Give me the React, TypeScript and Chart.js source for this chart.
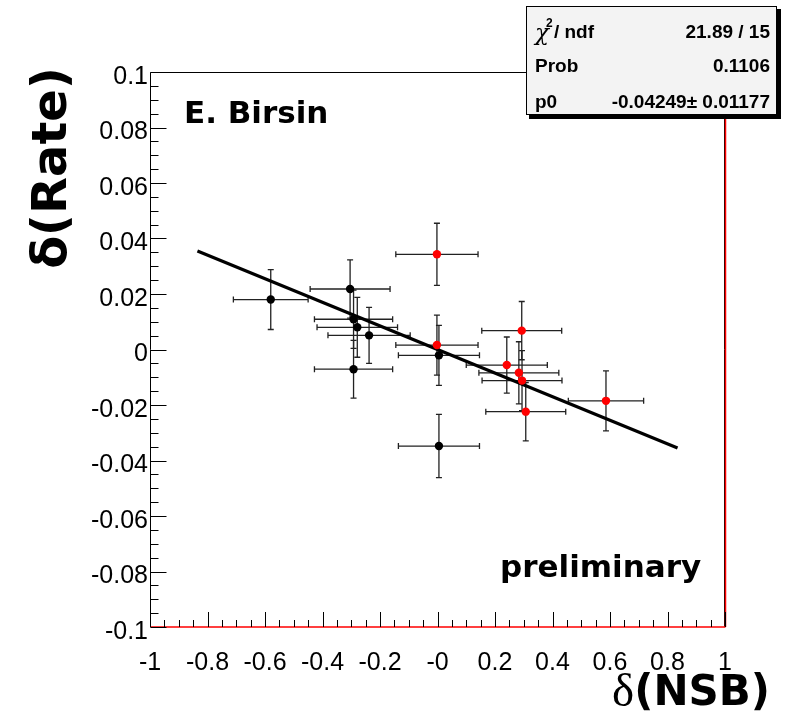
import { useEffect, useRef } from 'react';
import { Chart, registerables } from 'chart.js';
Chart.register(...registerables);

// Black points (NSB change, rate change) with errors
const blackX = [-0.58, -0.304, -0.292, -0.279, -0.238, -0.292, 0.005, 0.005];
const blackY = [0.018, 0.0218, 0.0109, 0.008, 0.0051, -0.0071, -0.0021, -0.0348];
const blackXErr = [0.13, 0.139, 0.136, 0.14, 0.143, 0.136, 0.141, 0.141];
const blackYErr = [0.0108, 0.0105, 0.0105, 0.0108, 0.0101, 0.0104, 0.0108, 0.0114];

// Red points
const redX = [-0.002, -0.002, 0.293, 0.241, 0.283, 0.294, 0.307, 0.586];
const redY = [0.0343, 0.0016, 0.0068, -0.0056, -0.0084, -0.0112, -0.0224, -0.0185];
const redXErr = [0.143, 0.143, 0.139, 0.141, 0.139, 0.139, 0.139, 0.131];
const redYErr = [0.0112, 0.0108, 0.0105, 0.0101, 0.0112, 0.0108, 0.0105, 0.0108];

// Fit line end points (p0 * x)
const fitX = [-0.835, 0.835];
const fitY = [0.0355, -0.0355];

// Axis ticks
const xTickValues = [-1, -0.8, -0.6, -0.4, -0.2, 0, 0.2, 0.4, 0.6, 0.8, 1];
const xTickLabels = ['-1', '-0.8', '-0.6', '-0.4', '-0.2', '-0', '0.2', '0.4', '0.6', '0.8', '1'];
const yTickValues = [-0.1, -0.08, -0.06, -0.04, -0.02, 0, 0.02, 0.04, 0.06, 0.08, 0.1];
const yTickLabels = ['-0.1', '-0.08', '-0.06', '-0.04', '-0.02', '0', '0.02', '0.04', '0.06', '0.08', '0.1'];

// Stats box texts
const statsLabels = ['/ ndf', 'Prob', 'p0'];
const statsValues = ['21.89 / 15', '0.1106', '-0.04249\u00b1 0.01177'];

const TICK_FONT = "'Liberation Sans Narrow', 'Liberation Sans', Arial, sans-serif";
const BOLD_FONT = "'DejaVu Sans', Verdana, sans-serif";

const rootPlugin = {
  id: 'rootStyle',
  beforeDatasetsDraw(chart: any) {
    const ctx = chart.ctx;
    const xs = chart.scales.x;
    const ys = chart.scales.y;
    ctx.save();
    ctx.strokeStyle = '#222';
    ctx.lineWidth = 1.3;
    chart.data.datasets.forEach((ds: any) => {
      if (!ds.errors) return;
      ds.data.forEach((p: any) => {
        const px = xs.getPixelForValue(p.x);
        const py = ys.getPixelForValue(p.y);
        const x1 = xs.getPixelForValue(p.x - p.xErr);
        const x2 = xs.getPixelForValue(p.x + p.xErr);
        const y1 = ys.getPixelForValue(p.y - p.yErr);
        const y2 = ys.getPixelForValue(p.y + p.yErr);
        const c = 3;
        ctx.beginPath();
        ctx.moveTo(x1, py); ctx.lineTo(x2, py);
        ctx.moveTo(px, y1); ctx.lineTo(px, y2);
        ctx.moveTo(x1, py - c); ctx.lineTo(x1, py + c);
        ctx.moveTo(x2, py - c); ctx.lineTo(x2, py + c);
        ctx.moveTo(px - c, y1); ctx.lineTo(px + c, y1);
        ctx.moveTo(px - c, y2); ctx.lineTo(px + c, y2);
        ctx.stroke();
      });
    });
    ctx.restore();
  },
  afterDraw(chart: any) {
    const ctx = chart.ctx;
    const xs = chart.scales.x;
    const ys = chart.scales.y;
    const a = chart.chartArea;
    const L = Math.round(a.left) + 0.5;
    const R = Math.round(a.right) + 0.5;
    const T = Math.round(a.top) + 0.5;
    const B = Math.round(a.bottom);
    ctx.save();
    // frame
    ctx.lineWidth = 1;
    ctx.strokeStyle = '#000';
    ctx.beginPath();
    ctx.moveTo(L, T); ctx.lineTo(R, T);
    ctx.moveTo(L, T); ctx.lineTo(L, B);
    ctx.moveTo(R - 1, T); ctx.lineTo(R - 1, B);
    ctx.stroke();
    ctx.strokeStyle = '#ff0000';
    ctx.lineWidth = 1.5;
    ctx.beginPath();
    ctx.moveTo(R, T); ctx.lineTo(R, B);
    ctx.moveTo(L, B); ctx.lineTo(R, B);
    ctx.stroke();
    // ticks
    ctx.strokeStyle = '#000';
    ctx.lineWidth = 1;
    ctx.beginPath();
    for (let i = 0; i <= 40; i++) {
      const v = -0.1 + i * 0.005;
      const py = Math.round(ys.getPixelForValue(v)) + 0.5;
      const len = i % 4 === 0 ? 16 : 8;
      ctx.moveTo(L, py); ctx.lineTo(L + len, py);
    }
    for (let i = 0; i <= 40; i++) {
      const v = -1 + i * 0.05;
      const px = Math.round(xs.getPixelForValue(v)) + 0.5;
      const len = i % 4 === 0 ? 15 : 7;
      ctx.moveTo(px, B); ctx.lineTo(px, B - len);
    }
    ctx.stroke();

    // texts
    ctx.fillStyle = '#000';
    ctx.textAlign = 'left';
    ctx.textBaseline = 'alphabetic';
    ctx.font = `bold 31px ${BOLD_FONT}`;
    ctx.fillText('E. Birsin', 184, 123);
    ctx.font = `bold 31px ${BOLD_FONT}`;
    ctx.fillText('preliminary', 500, 577);

    // y title
    ctx.save();
    ctx.translate(66, 168);
    ctx.rotate(-Math.PI / 2);
    ctx.textAlign = 'center';
    ctx.font = `bold 48px ${BOLD_FONT}`;
    ctx.fillText('\u03b4(Rate)', 0, 0);
    ctx.restore();

    // x title
    ctx.textAlign = 'right';
    ctx.font = `bold 42px ${BOLD_FONT}`;
    ctx.fillText('(NSB)', 770, 705);
    const w = ctx.measureText('(NSB)').width;
    ctx.font = `47px 'Liberation Serif', 'DejaVu Serif', serif`;
    ctx.fillText('\u03b4', 770 - w, 706);

    // stats box
    const bx = 526, by = 6, bw = 251, bh = 109;
    ctx.fillStyle = '#000';
    ctx.fillRect(bx + 3, by + 3, bw + 1, bh + 1);
    ctx.fillStyle = '#f3f3f3';
    ctx.fillRect(bx, by, bw, bh);
    ctx.strokeStyle = '#000';
    ctx.lineWidth = 1;
    ctx.strokeRect(bx + 0.5, by + 0.5, bw - 1, bh - 1);
    ctx.fillStyle = '#000';
    const rows = [38, 72, 108];
    ctx.textAlign = 'left';
    ctx.font = `italic 23px 'DejaVu Serif', serif`;
    ctx.fillText('\u03c7', 535, rows[0] + 2);
    const cw = ctx.measureText('\u03c7').width;
    ctx.font = `bold 12px 'Liberation Sans', Arial, sans-serif`;
    ctx.fillText('2', 535 + cw - 3, rows[0] - 11);
    ctx.font = `bold 19px 'Liberation Sans', Arial, sans-serif`;
    ctx.fillText(statsLabels[0], 535 + cw + 5, rows[0]);
    ctx.fillText(statsLabels[1], 535, rows[1]);
    ctx.fillText(statsLabels[2], 535, rows[2]);
    ctx.textAlign = 'right';
    statsValues.forEach((s, i) => ctx.fillText(s, 770, rows[i]));
    ctx.restore();
  },
};

export default function App() {
  const ref = useRef<HTMLCanvasElement>(null);
  useEffect(() => {
    const canvas = ref.current!;
    const mk = (xs: number[], ys: number[], xe: number[], ye: number[]) =>
      xs.map((x, i) => ({ x, y: ys[i], xErr: xe[i], yErr: ye[i] }));
    const chart = new Chart(canvas, {
      type: 'scatter',
      data: {
        datasets: [
          {
            label: 'fit',
            type: 'line',
            data: fitX.map((x, i) => ({ x, y: fitY[i] })),
            borderColor: '#000',
            borderWidth: 3.2,
            pointRadius: 0,
            fill: false,
            tension: 0,
            order: 2,
          } as any,
          {
            label: 'black',
            data: mk(blackX, blackY, blackXErr, blackYErr),
            backgroundColor: '#000',
            borderColor: '#000',
            pointRadius: 4.2,
            borderWidth: 0,
            order: 1,
            errors: true,
          } as any,
          {
            label: 'red',
            data: mk(redX, redY, redXErr, redYErr),
            backgroundColor: '#ff0000',
            borderColor: '#ff0000',
            pointRadius: 4.2,
            borderWidth: 0,
            order: 0,
            errors: true,
          } as any,
        ],
      },
      options: {
        responsive: false,
        animation: false,
        devicePixelRatio: 1,
        events: [],
        layout: { padding: { top: 72, right: 65, left: 0, bottom: 0 } },
        plugins: { legend: { display: false }, tooltip: { enabled: false } },
        scales: {
          x: {
            type: 'linear',
            min: -1,
            max: 1,
            afterBuildTicks: (s: any) => {
              s.ticks = xTickValues.map((v) => ({ value: v }));
            },
            afterFit: (s: any) => {
              s.height = 85;
            },
            grid: { display: false, drawTicks: false },
            border: { display: false },
            ticks: {
              callback: (_v: any, i: number) => xTickLabels[i],
              font: { family: TICK_FONT, size: 25 },
              color: '#000',
              padding: 21,
              maxRotation: 0,
              autoSkip: false,
            },
          },
          y: {
            type: 'linear',
            min: -0.1,
            max: 0.1,
            afterBuildTicks: (s: any) => {
              s.ticks = yTickValues.map((v) => ({ value: v }));
            },
            afterFit: (s: any) => {
              s.width = 150;
            },
            grid: { display: false, drawTicks: false },
            border: { display: false },
            ticks: {
              callback: (_v: any, i: number) => yTickLabels[i],
              font: { family: TICK_FONT, size: 25 },
              color: '#000',
              padding: 2,
              labelOffset: 5,
              autoSkip: false,
            },
          },
        },
      },
      plugins: [rootPlugin],
    });
    return () => chart.destroy();
  }, []);
  return (
    <div style={{ position: 'absolute', left: 0, top: 0, width: 790, height: 712, background: '#fff' }}>
      <canvas ref={ref} width={790} height={712} style={{ display: 'block', width: 790, height: 712 }} />
    </div>
  );
}
